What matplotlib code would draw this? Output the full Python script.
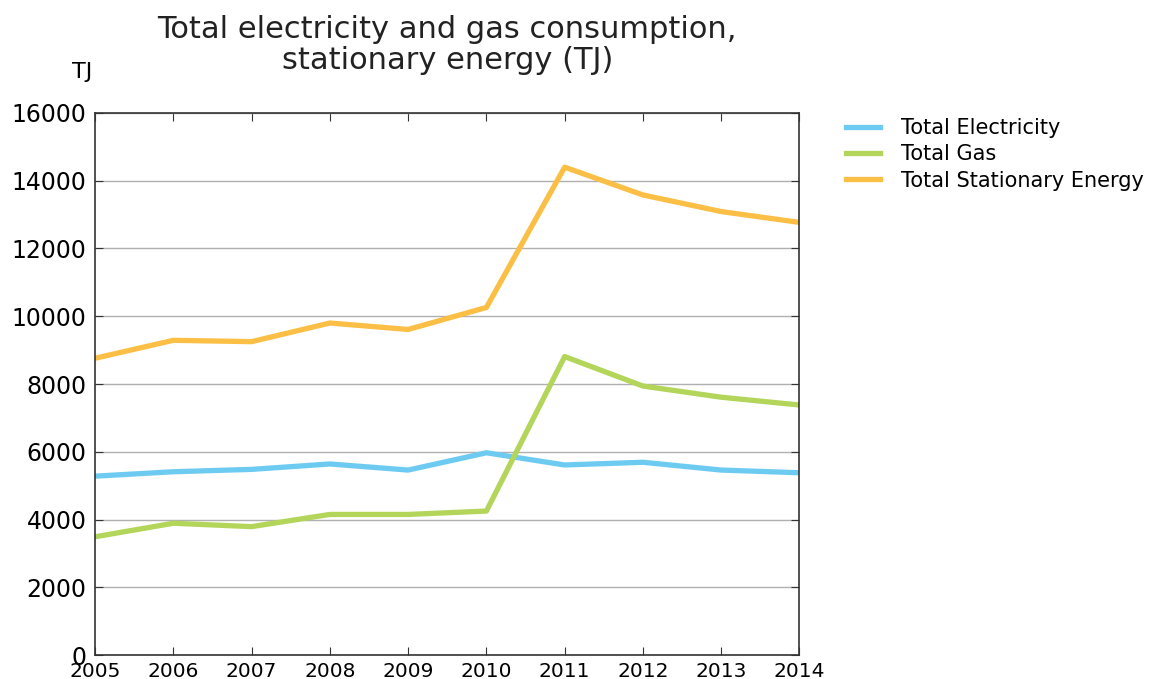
import numpy as np
import matplotlib
matplotlib.use("Agg")
import matplotlib.pyplot as plt

years = [2005, 2006, 2007, 2008, 2009, 2010, 2011, 2012, 2013, 2014]
electricity = [5280, 5410, 5480, 5640, 5460, 5970, 5610, 5690, 5460, 5380]
gas = [3490, 3890, 3790, 4150, 4150, 4250, 8810, 7940, 7610, 7380]
stationary = [8760, 9290, 9250, 9800, 9610, 10260, 14400, 13580, 13090, 12770]

series_names = ["Total Electricity", "Total Gas", "Total Stationary Energy"]
series_colors = ["#6dcbf2", "#b2d55a", "#fbbf45"]

fig = plt.figure(figsize=(11.52, 6.79), dpi=100)
ax = fig.add_axes([0.0825, 0.0353, 0.6115, 0.7983])

for vals, name, col in zip([electricity, gas, stationary], series_names, series_colors):
    ax.plot(years, vals, color=col, linewidth=3.8, label=name)

ax.set_xlim(2005, 2014)
ax.set_ylim(0, 16000)
ax.set_xticks(years)
ax.set_yticks(np.arange(0, 16001, 2000))
ax.yaxis.grid(True, color="#b0b0b0", linewidth=1)
ax.set_axisbelow(True)

ax.tick_params(direction="in", top=True, right=True, length=6, color="#333333")
ax.tick_params(axis="y", labelsize=17, pad=6)
ax.tick_params(axis="x", labelsize=14.5, pad=5)
for s in ax.spines.values():
    s.set_color("#333333")
    s.set_linewidth(1.2)

ax.set_title("Total electricity and gas consumption,\nstationary energy (TJ)",
             fontsize=22, pad=32, color="#222222", linespacing=1.08)
ax.text(-0.018, 1.0756, "TJ", transform=ax.transAxes, fontsize=16, ha="center", va="center")

ax.legend(loc="upper left", bbox_to_anchor=(1.04, 1.025), frameon=False, fontsize=15,
          handlelength=1.6, handletextpad=1.0, labelspacing=0.3)

fig.savefig("out.png", dpi=100)
